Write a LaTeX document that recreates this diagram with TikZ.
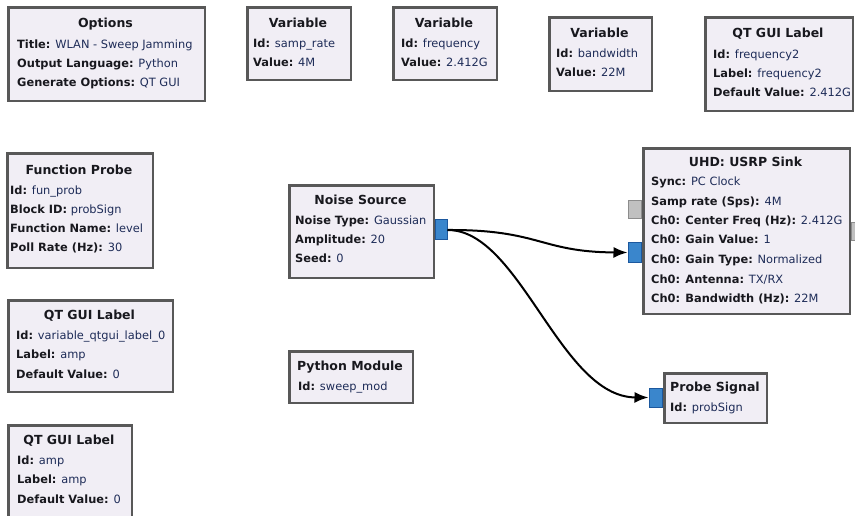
\documentclass[tikz,border=0pt]{standalone}
\usepackage{fontspec}
\setmainfont{DejaVu Sans}
\usetikzlibrary{arrows.meta}

\definecolor{blockfill}{RGB}{241,238,245}
\definecolor{blockline}{RGB}{88,88,88}
\definecolor{labeltext}{RGB}{24,24,30}
\definecolor{valuetext}{RGB}{30,44,88}
\definecolor{portblue}{RGB}{58,134,204}
\definecolor{portblueline}{RGB}{28,88,158}
\definecolor{portgray}{RGB}{192,192,192}
\definecolor{portgrayline}{RGB}{140,140,140}

\tikzset{
  blockbox/.style={draw=blockline, fill=blockfill, line width=2.8pt,
    anchor=north west, inner sep=0pt},
  blocktitle/.style={anchor=mid, inner sep=0pt, text=labeltext,
    font=\fontsize{12.5}{14}\selectfont\bfseries},
  blockfield/.style={anchor=mid west, inner sep=0pt, text=valuetext,
    font=\fontsize{11.4}{13}\selectfont},
  streamport/.style={draw=portblueline, fill=portblue, line width=1pt,
    anchor=north west, inner sep=0pt},
  msgport/.style={draw=portgrayline, fill=portgray, line width=1pt,
    anchor=north west, inner sep=0pt},
  flow/.style={draw=black, line width=2pt,
    -{Latex[length=14pt,width=11pt]}},
}

% block frame: name, left, top, right, bottom (pixel units, y downwards)
\newcommand\gblock[5]{%
  \node[blockbox, minimum width={#4-#2-2.8}, minimum height={#5-#3-2.8}]
    (#1) at ({#2+1.4},{#3+1.4}) {};}
% parameter line: name, x, y, label, value
\newcommand\gfield[5]{%
  \node[blockfield] (#1) at (#2,#3) {\textcolor{labeltext}{\bfseries #4:} #5};}
% port: name, style, left, top, right, bottom
\newcommand\gport[6]{%
  \node[#2, minimum width={#5-#3-1}, minimum height={#6-#4-1}]
    (#1) at ({#3+0.5},{#4+0.5}) {};}

\begin{document}
\begin{tikzpicture}[x=1pt, y=-1pt]
  \useasboundingbox[fill=white] (0,0) rectangle (855,516);

  % Options
  \gblock{opt}{6}{5}{205}{101}
  \node[blocktitle] (optT) at (105.5,25) {Options};
  \gfield{optA}{17}{46}{Title}{WLAN - Sweep Jamming}
  \gfield{optB}{17}{65}{Output Language}{Python}
  \gfield{optC}{17}{84}{Generate Options}{QT GUI}

  % Variable samp_rate
  \gblock{vsr}{245}{5}{351}{80}
  \node[blocktitle] (vsrT) at (298,25) {Variable};
  \gfield{vsrA}{253}{45}{Id}{samp\_rate}
  \gfield{vsrB}{253}{64}{Value}{4M}

  % Variable frequency
  \gblock{vfq}{391}{5}{497}{80}
  \node[blocktitle] (vfqT) at (444,25) {Variable};
  \gfield{vfqA}{401}{45}{Id}{frequency}
  \gfield{vfqB}{401}{64}{Value}{2.412G}

  % Variable bandwidth
  \gblock{vbw}{547}{15}{652}{91}
  \node[blocktitle] (vbwT) at (599.5,35) {Variable};
  \gfield{vbwA}{556}{55}{Id}{bandwidth}
  \gfield{vbwB}{556}{74}{Value}{22M}

  % QT GUI Label frequency2
  \gblock{qf2}{703}{15}{853}{111}
  \node[blocktitle] (qf2T) at (778,35) {QT GUI Label};
  \gfield{qf2A}{713}{56}{Id}{frequency2}
  \gfield{qf2B}{713}{75}{Label}{frequency2}
  \gfield{qf2C}{713}{94}{Default Value}{2.412G}

  % Function Probe
  \gblock{fpb}{5}{151}{153}{268}
  \node[blocktitle] (fpbT) at (79,172) {Function Probe};
  \gfield{fpbA}{10}{192}{Id}{fun\_prob}
  \gfield{fpbB}{10}{211}{Block ID}{probSign}
  \gfield{fpbC}{10}{230}{Function Name}{level}
  \gfield{fpbD}{10}{249}{Poll Rate (Hz)}{30}

  % Noise Source
  \gblock{nsrc}{287}{183}{434}{278}
  \node[blocktitle] (nsrcT) at (360.5,202) {Noise Source};
  \gfield{nsrcA}{295}{222}{Noise Type}{Gaussian}
  \gfield{nsrcB}{295}{241}{Amplitude}{20}
  \gfield{nsrcC}{295}{260}{Seed}{0}
  \gport{nsout}{streamport}{434}{219}{447}{240}

  % UHD: USRP Sink
  \gblock{usrp}{641}{146}{850}{314}
  \node[blocktitle] (usrpT) at (745.5,164) {UHD: USRP Sink};
  \gfield{usrpA}{651}{183}{Sync}{PC Clock}
  \gfield{usrpB}{651}{203}{Samp rate (Sps)}{4M}
  \gfield{usrpC}{651}{222}{Ch0: Center Freq (Hz)}{2.412G}
  \gfield{usrpD}{651}{241}{Ch0: Gain Value}{1}
  \gfield{usrpE}{651}{261}{Ch0: Gain Type}{Normalized}
  \gfield{usrpF}{651}{281}{Ch0: Antenna}{TX/RX}
  \gfield{usrpG}{651}{300}{Ch0: Bandwidth (Hz)}{22M}
  \gport{usrpcmd}{msgport}{627}{200}{641}{219}
  \gport{usrpasync}{msgport}{850}{222}{856}{241}
  \gport{usrpin}{streamport}{627}{242}{641}{262}

  % QT GUI Label variable_qtgui_label_0
  \gblock{ql0}{6}{298}{173}{392}
  \node[blocktitle] (ql0T) at (89.5,317) {QT GUI Label};
  \gfield{ql0A}{16}{337}{Id}{variable\_qtgui\_label\_0}
  \gfield{ql0B}{16}{356}{Label}{amp}
  \gfield{ql0C}{16}{376}{Default Value}{0}

  % QT GUI Label amp
  \gblock{qam}{6}{423}{132}{518}
  \node[blocktitle] (qamT) at (69,442) {QT GUI Label};
  \gfield{qamA}{17}{462}{Id}{amp}
  \gfield{qamB}{17}{481}{Label}{amp}
  \gfield{qamC}{17}{501}{Default Value}{0}

  % Python Module
  \gblock{pym}{287}{349}{413}{403}
  \node[blocktitle] (pymT) at (350,368) {Python Module};
  \gfield{pymA}{298}{388}{Id}{sweep\_mod}

  % Probe Signal
  \gblock{prb}{662}{371}{767}{423}
  \node[blocktitle,anchor=mid west] (prbT) at (670,389) {Probe Signal};
  \gfield{prbA}{670}{409}{Id}{probSign}
  \gport{prbin}{streamport}{648}{387}{662}{407}

  % stream connections
  \draw[flow] (nsout.east) .. controls (540,229.5) and (540,252) .. (usrpin.west);
  \draw[flow] (nsout.east) .. controls (520,229.5) and (560,397) .. (prbin.west);
\end{tikzpicture}
\end{document}
